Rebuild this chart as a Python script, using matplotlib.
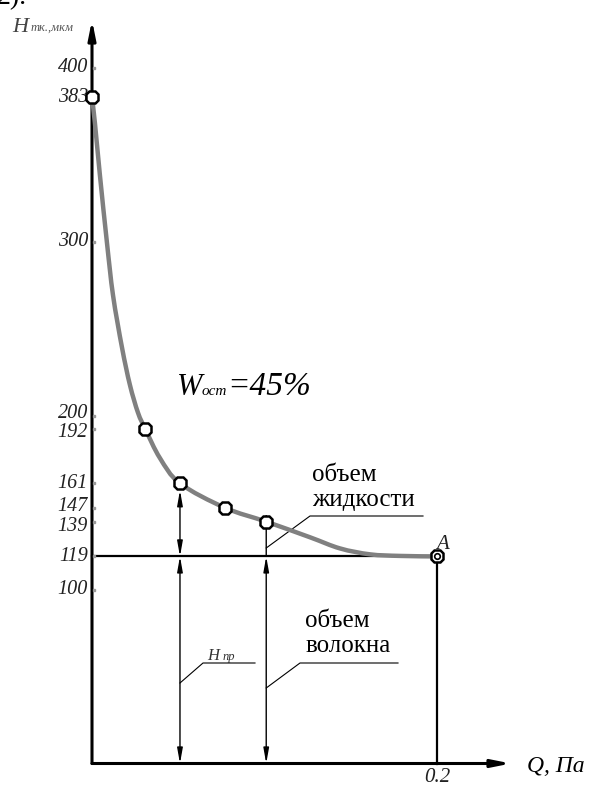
import matplotlib
matplotlib.use("Agg")
import matplotlib.pyplot as plt
from matplotlib.transforms import ScaledTranslation
from matplotlib.path import Path
from matplotlib.patches import PathPatch

# measured points: Q (Па) and H (мкм)
q_pts = [0.0, 0.031, 0.051, 0.077, 0.101]
h_pts = [383, 192, 161, 147, 139]
q_A = 0.2
h_A = 119

# curve trace
q_curve = [0.0, 0.0017, 0.0046, 0.0087, 0.0122, 0.0174, 0.022, 0.0267, 0.031,
           0.0394, 0.051, 0.077, 0.101, 0.1264, 0.1438, 0.1612, 0.1786, 0.2]
h_curve = [383, 368, 338, 299, 269, 239, 217.5, 201.5, 192,
           175.5, 161, 147, 139, 130, 123.6, 120.2, 119.3, 119]

y_ticks = [400, 383, 300, 200, 192, 161, 147, 139, 119, 100]
x_ticks = [0.2]

# pixel scale of the drawing
W, H = 594, 786
X0, XPX = 92, 1725.0     # pixel of Q=0, pixels per unit Q
Y0, YPX = 763.5, 1.74    # pixel of H=0, pixels per unit H

# crowded tick labels are pushed apart a little (pixels, + is down)
label_nudge = {200: -2, 192: 3, 147: -1, 139: 5}


def qd(px):
    return (px - X0) / XPX


def hd(py):
    return (Y0 - py) / YPX


def smooth_path(xs, ys):
    # catmull-rom through the traced points, as bezier segments
    verts = [(xs[0], ys[0])]
    codes = [Path.MOVETO]
    n = len(xs)
    for i in range(n - 1):
        a, b = max(i - 1, 0), min(i + 2, n - 1)
        c1 = (xs[i] + (xs[i + 1] - xs[a]) / 6, ys[i] + (ys[i + 1] - ys[a]) / 6)
        c2 = (xs[i + 1] - (xs[b] - xs[i]) / 6, ys[i + 1] - (ys[b] - ys[i]) / 6)
        verts += [c1, c2, (xs[i + 1], ys[i + 1])]
        codes += [Path.CURVE4] * 3
    return Path(verts, codes)


serif = ['Liberation Serif', 'DejaVu Serif']

fig = plt.figure(figsize=(W / 100, H / 100), dpi=100)
ax = fig.add_axes([0, 0, 1, 1])
ax.set_xlim(qd(0), qd(W))
ax.set_ylim(hd(H), hd(0))
ax.axis('off')

# axes with arrows
axis_arrow = dict(arrowstyle='-|>,head_length=1.1,head_width=0.22', color='black',
                  lw=2.2, mutation_scale=10, shrinkA=0, shrinkB=0)
ax.annotate('', xy=(0, hd(20)), xytext=(0, 0), arrowprops=axis_arrow)
ax.annotate('', xy=(qd(511), 0), xytext=(0, 0), arrowprops=axis_arrow)

# 119 level and the line down from A
ax.plot([0, q_A], [h_A, h_A], color='black', lw=1.6, zorder=2)
ax.plot([q_A, q_A], [0, h_A], color='black', lw=1.6, zorder=2)

# the curve
ax.add_patch(PathPatch(smooth_path(q_curve, h_curve), fill=False, edgecolor='#808080',
                       lw=3.2, capstyle='round', zorder=3))

# dimension lines
dim = dict(arrowstyle='<|-|>,head_length=0.9,head_width=0.16', color='black',
           lw=1.0, mutation_scale=10, shrinkA=0, shrinkB=0)
one = dict(dim, arrowstyle='-|>,head_length=0.9,head_width=0.16')
q2, q4 = q_pts[2], q_pts[4]
ax.annotate('', xy=(q2, h_A), xytext=(q2, h_pts[2]), arrowprops=dict(dim, shrinkA=5))
ax.annotate('', xy=(q2, 0), xytext=(q2, h_A), arrowprops=dim)
up = ax.transData + ScaledTranslation(0, 7 / 72, fig.dpi_scale_trans)
ax.annotate('', xy=(q4, h_pts[4]), xycoords=up, xytext=(q4, h_A), textcoords='data',
            arrowprops=one)
ax.annotate('', xy=(q4, 0), xytext=(q4, h_A), arrowprops=dim)

# markers
ax.plot(q_pts, h_pts, ls='none', marker='8', ms=10, mfc='white', mec='black',
        mew=1.8, zorder=5)
ax.plot(q_A, h_A, marker='8', ms=10, mfc='white', mec='black', mew=1.8, zorder=5)
ax.plot(q_A, h_A, marker='o', ms=4, mfc='white', mec='black', mew=1.2, zorder=6)

# tick marks and labels
for v in y_ticks:
    ax.plot(qd(94), v, marker='s', ms=2, color='#999999', zorder=4)
    shift = ax.transData + ScaledTranslation(0, -label_nudge.get(v, 0) / 100,
                                             fig.dpi_scale_trans)
    ax.text(qd(88), v, str(v), ha='right', va='center', fontsize=14.5,
            style='italic', family=serif, color='#222222', transform=shift)
for v in x_ticks:
    ax.text(v, hd(777), str(v), ha='center', va='center', fontsize=15,
            style='italic', family=serif, color='#222222')

ax.text(qd(527), hd(766), 'Q, Па', ha='left', va='center', fontsize=17,
        style='italic', family=serif)
ax.text(qd(436), hd(549), 'A', ha='left', va='baseline', fontsize=15,
        style='italic', family=serif, color='#222222')

# y axis title
ax.text(qd(12), hd(32), 'H', ha='left', va='baseline', fontsize=16,
        style='italic', family=serif, color='#444444')
ax.text(qd(31), hd(31), 'тк.,мкм', ha='left', va='baseline', fontsize=9,
        style='italic', family=serif, color='#555555')

# W_ост=45%
ax.text(qd(177), hd(395), 'W', ha='left', va='baseline', fontsize=22,
        style='italic', family=serif)
ax.text(qd(202), hd(395), 'ост', ha='left', va='baseline', fontsize=11,
        style='italic', family=serif)
ax.text(qd(227), hd(395), '=45%', ha='left', va='baseline', fontsize=24,
        style='italic', family=serif)

# labels with leaders
ax.text(qd(312), hd(481), 'объем', ha='left', va='baseline', fontsize=18, family=serif)
ax.text(qd(312), hd(506), 'жидкости', ha='left', va='baseline', fontsize=18, family=serif)
ax.plot([q4, qd(310), qd(423)], [hd(548), hd(516), hd(516)], color='black', lw=0.8)

ax.text(qd(305), hd(627), 'объем', ha='left', va='baseline', fontsize=18, family=serif)
ax.text(qd(306), hd(652), 'волокна', ha='left', va='baseline', fontsize=18, family=serif)
ax.plot([q4, qd(300), qd(398)], [hd(688), hd(663), hd(663)], color='black', lw=0.8)

ax.text(qd(207), hd(660), 'H', ha='left', va='baseline', fontsize=12,
        style='italic', family=serif, color='#333333')
ax.text(qd(223), hd(660), 'пр', ha='left', va='baseline', fontsize=9,
        style='italic', family=serif, color='#333333')
ax.plot([q2, qd(203), qd(255)], [hd(683), hd(663), hd(663)], color='black', lw=0.8)

# cut-off text from the line above
fig.text(-0.005, 1 - 4 / H, '2).', ha='left', va='baseline', fontsize=20, family=serif)

fig.savefig('out.png', dpi=100)
